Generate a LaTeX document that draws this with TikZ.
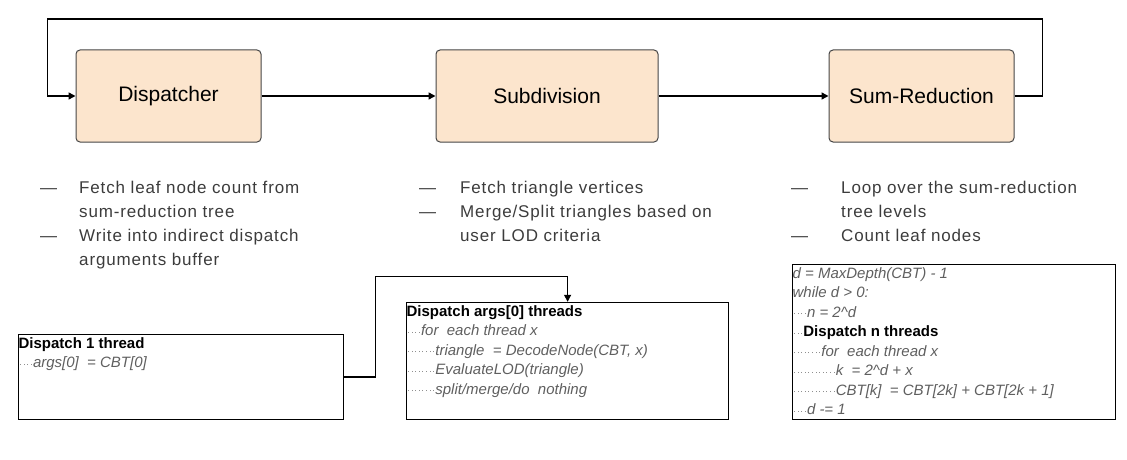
\documentclass[tikz,border=0pt]{standalone}
\usepackage{fontspec}
\setmainfont{Liberation Sans}
\newfontfamily\notefont[LetterSpace=5]{Liberation Sans}
\usetikzlibrary{positioning, arrows.meta}

\definecolor{stagefill}{RGB}{252,229,205}
\definecolor{stageline}{RGB}{70,70,70}
\definecolor{notetext}{RGB}{60,60,60}
\definecolor{codegray}{RGB}{95,95,95}

% dotted indent in the code boxes
\newcommand{\ind}[1]{{\color{codegray!70}\hbox to \dimexpr3.6pt*#1\relax{\xleaders\hbox to 3.6pt{\hss\rule[3pt]{0.9pt}{0.9pt}\hss}\hfill}}}

\begin{document}
\begin{tikzpicture}
    \tikzset{
      >={Triangle[length=7pt, width=7pt]}, % filled arrow heads
      flow/.style={->, line width=1.5pt}, % the connectors
      stage/.style={draw=stageline, line width=1pt, fill=stagefill, rounded corners=4pt,
        minimum width=185pt, minimum height=92pt, font=\fontsize{21}{25}\selectfont}, % the three passes
      notes/.style={anchor=north west, inner sep=0pt, text=notetext,
        font=\notefont\fontsize{17}{24}\selectfont}, % bullet lists
      code/.style={draw, line width=1.2pt, inner sep=0pt, anchor=south west}, % pseudo code boxes
    }
    \useasboundingbox (0,0) rectangle (1127pt,-460pt);

    \node[stage] (disp) at (168.5pt,-96pt) {Dispatcher};
    \node[stage, minimum width=222pt, right=174pt of disp] (subd) {Subdivision};
    \node[stage, right=170pt of subd] (sumred) {Sum-Reduction};

    \draw[flow] (disp) -- (subd);
    \draw[flow] (subd) -- (sumred);
    \draw[flow] (sumred.east) -- ++(28pt,0) -- ++(0,77pt) -| ([xshift=-28pt]disp.west) -- (disp.west);

    \node[notes] (dispnotes) at (40pt,-176pt)
      {\begin{tabular}{@{}p{39pt}@{}l@{}}
       \textemdash & Fetch leaf node count from\\
           & sum-reduction tree\\
       \textemdash & Write into indirect dispatch\\
           & arguments buffer
       \end{tabular}};
    \node[notes] (subdnotes) at (419pt,-176pt)
      {\begin{tabular}{@{}p{41pt}@{}l@{}}
       \textemdash & Fetch triangle vertices\\
       \textemdash & Merge/Split triangles based on\\
           & user LOD criteria
       \end{tabular}};
    \node[notes] (sumnotes) at (791pt,-176pt)
      {\begin{tabular}{@{}p{50pt}@{}l@{}}
       \textemdash & Loop over the sum-reduction\\
           & tree levels\\
       \textemdash & Count leaf nodes
       \end{tabular}};

    \node[code] (dispcode) at (18pt,-420pt)
      {\parbox[t][85pt][t]{325pt}{\fontsize{15}{19.5}\selectfont\strut
       \textbf{Dispatch 1 thread}\\
       \ind{4}{\color{codegray}\itshape args[0]\ \ = CBT[0]}}};
    \node[code] (subdcode) at (406pt,-420pt)
      {\parbox[t][117pt][t]{322pt}{\fontsize{15}{19.5}\selectfont\strut
       \textbf{Dispatch args[0] threads}\\
       \ind{4}{\color{codegray}\itshape for\ \ each thread x}\\
       \ind{8}{\color{codegray}\itshape triangle\ \ = DecodeNode(CBT, x)}\\
       \ind{8}{\color{codegray}\itshape EvaluateLOD(triangle)}\\
       \ind{8}{\color{codegray}\itshape split/merge/do\ \ nothing}}};
    \node[code] (sumcode) at (792pt,-420pt)
      {\parbox[t][155pt][t]{323pt}{\fontsize{15}{19.5}\selectfont\strut
       {\color{codegray}\itshape d = MaxDepth(CBT) - 1}\\
       {\color{codegray}\itshape while d > 0:}\\
       \ind{4}{\color{codegray}\itshape n = 2\textasciicircum d}\\
       \ind{3}\textbf{Dispatch n threads}\\
       \ind{8}{\color{codegray}\itshape for\ \ each thread x}\\
       \ind{12}{\color{codegray}\itshape k\ \ = 2\textasciicircum d + x}\\
       \ind{12}{\color{codegray}\itshape CBT[k]\ \ = CBT[2k] + CBT[2k + 1]}\\
       \ind{4}{\color{codegray}\itshape d -= 1}}};

    \draw[flow, line width=1.2pt] (dispcode.east) -- ++(31pt,0) |- ([yshift=25pt]subdcode.north) -- (subdcode.north);
\end{tikzpicture}
\end{document}
